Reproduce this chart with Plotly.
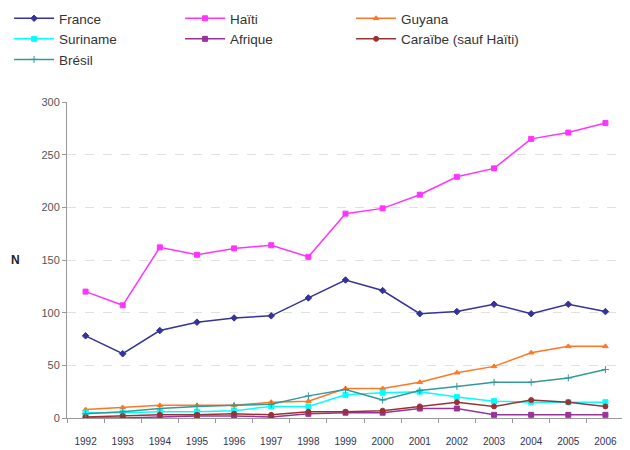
import plotly.graph_objects as go

years = [str(y) for y in range(1992, 2007)]

france   = [78, 61, 83, 91, 95, 97, 114, 131, 121, 99, 101, 108, 99, 108, 101]
haiti    = [120, 107, 162, 155, 161, 164, 153, 194, 199, 212, 229, 237, 265, 271, 280]
guyana   = [8, 10, 12, 12, 12, 15, 16, 28, 28, 34, 43, 49, 62, 68, 68]
suriname = [5, 5, 6, 6, 7, 11, 11, 22, 24, 25, 20, 16, 15, 15, 15]
afrique  = [0, 0, 1, 2, 2, 1, 4, 5, 5, 9, 9, 3, 3, 3, 3]
caraibe  = [1, 2, 3, 3, 4, 3, 6, 6, 7, 11, 15, 11, 17, 15, 11]
bresil   = [4, 6, 9, 11, 12, 13, 21, 27, 17, 26, 30, 34, 34, 38, 46]

series = [
    ("France", france, "#333399", "diamond"),
    ("Haïti", haiti, "#FF33FF", "square"),
    ("Guyana", guyana, "#FF7722", "triangle-up"),
    ("Suriname", suriname, "#00FFFF", "square"),
    ("Afrique", afrique, "#993399", "square"),
    ("Caraïbe (sauf Haïti)", caraibe, "#993333", "circle"),
    ("Brésil", bresil, "#339999", "cross-thin"),
]

fig = go.Figure()
for name, vals, color, sym in series:
    fig.add_trace(go.Scatter(
        x=years, y=vals, name=name, mode="lines+markers",
        line=dict(color=color, width=1.5),
        marker=dict(color=color, size=5, symbol=sym,
                    line=dict(color=color, width=1)),
    ))

fig.update_layout(
    width=630, height=450,
    margin=dict(l=59, r=14, t=94, b=40, autoexpand=False),
    plot_bgcolor="white", paper_bgcolor="white",
    font=dict(family="Liberation Sans, Arial, sans-serif", size=11, color="#333333"),
    showlegend=True,
    legend=dict(
        orientation="h", x=-0.104, y=1.0854, xanchor="left", yanchor="bottom",
        entrywidth=116, entrywidthmode="pixels",
        font=dict(size=13.5, color="#333333"),
        itemwidth=40, tracegroupgap=0,
        bgcolor="rgba(0,0,0,0)",
    ),
    xaxis=dict(
        type="category", range=[-0.5, 14.5],
        showline=True, linecolor="#999999", linewidth=1,
        ticks="outside", tickson="boundaries", ticklen=4, tickcolor="#999999",
        showgrid=False, tickfont=dict(size=10, color="#333355"),
        ticklabelstandoff=14,
    ),
    yaxis=dict(
        range=[0, 300], tickvals=[0, 50, 100, 150, 200, 250, 300],
        showline=True, linecolor="#999999", linewidth=1,
        ticks="outside", ticklen=4, tickcolor="#999999",
        showgrid=True, gridcolor="#E0E0E0", griddash="dash", gridwidth=1,
        zeroline=False, tickfont=dict(size=11, color="#555555"),
    ),
)

fig.add_annotation(text="<b>N</b>", xref="paper", yref="paper",
                   x=-0.093, y=0.5, xanchor="center", yanchor="middle",
                   showarrow=False, font=dict(size=12, color="#222222"))

fig.write_html("out.html")
